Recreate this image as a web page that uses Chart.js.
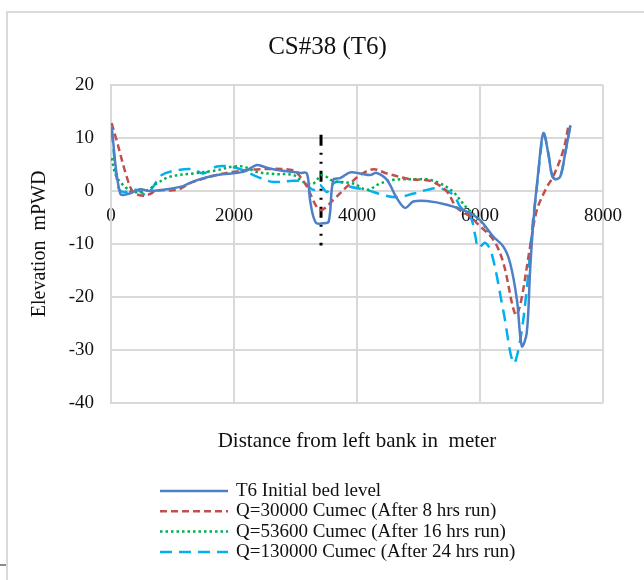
<!DOCTYPE html>
<html>
<head>
<meta charset="utf-8">
<script src="https://cdn.jsdelivr.net/npm/chart.js@4/dist/chart.umd.min.js"></script>
<style>
  html, body { margin: 0; padding: 0; background: #fff; overflow: hidden; }
  #wrap { position: relative; width: 644px; height: 580px; }
  #frame { position: absolute; left: 6px; top: 11px; width: 700px; height: 600px; border: 2px solid #d9d9d9; box-sizing: border-box; }
  #stub { position: absolute; left: 0; top: 564px; width: 6px; height: 2px; background: #8c8c8c; }
  canvas { position: absolute; left: 0; top: 0; }
</style>
</head>
<body>
<div id="wrap">
  <div id="frame"></div>
  <div id="stub"></div>
  <canvas id="chart" width="644" height="580"></canvas>
</div>
<script>
// Cross section CS#38 (T6) - bed level vs distance from left bank
const chartTitle = 'CS#38 (T6)';
const xTitle = 'Distance from left bank in  meter';
const yTitle = 'Elevation  mPWD';

const seriesNames = [
    'T6 Initial bed level',
    'Q=30000 Cumec (After 8 hrs run)',
    'Q=53600 Cumec (After 16 hrs run)',
    'Q=130000 Cumec (After 24 hrs run)'
];

// T6 initial bed level
const bedX = [10, 150, 300, 470, 630, 900, 1170, 1340, 1720, 2150, 2370, 2475, 2640, 3075, 3185, 3240, 3330, 3450, 3540, 3615, 3725, 3890, 4050, 4215, 4320, 4485, 4650, 4785, 4915, 5135, 5460, 5785, 6000, 6215, 6380, 6490, 6600, 6680, 6760, 6815, 6870, 6950, 7030, 7110, 7170, 7225, 7305, 7385, 7470];
const bedY = [12.1, -0.5, -0.5, 0.3, 0.0, 0.3, 0.9, 1.8, 3.0, 3.6, 4.9, 4.6, 4.1, 3.4, 3.3, -2.0, -6.0, -6.1, -5.8, 2.1, 2.4, 3.5, 3.3, 3.0, 3.4, 2.1, -1.4, -3.2, -2.0, -1.9, -2.6, -3.9, -5.5, -8.6, -10.5, -13.6, -20.5, -29.3, -26.8, -14.9, -5.5, 3.9, 10.9, 7.1, 3.0, 2.2, 2.7, 7.1, 12.4];

// Q=30000 after 8 hrs
const q30X = [10, 90, 255, 360, 520, 630, 745, 1070, 1335, 1720, 1985, 2425, 2965, 3075, 3185, 3345, 3430, 3615, 3835, 4050, 4265, 4485, 4865, 5080, 5240, 5460, 5625, 5840, 5950, 6215, 6380, 6575, 6655, 6815, 6925, 7090, 7190, 7355, 7440];
const q30Y = [12.8, 9.6, 2.7, -0.2, -0.9, -0.6, 0.1, 0.2, 1.7, 3.0, 3.6, 4.1, 3.9, 2.7, 0.8, -3.0, -3.6, -1.7, 0.8, 3.0, 4.1, 3.3, 2.2, 2.1, 1.7, -0.1, -3.2, -4.8, -6.1, -9.2, -13.6, -23.4, -21.5, -10.5, -3.6, 0.8, 2.7, 7.7, 12.4];

// Q=53600 after 16 hrs
const q53X = [10, 90, 255, 360, 580, 745, 960, 1335, 1720, 1985, 2150, 2370, 2640, 2965, 3125, 3290, 3430, 3615, 3940, 4160, 4375, 4590, 4975, 5135, 5355, 5565, 5785, 6000, 6215];
const q53Y = [6.2, 2.7, 0.5, -0.2, 0.1, 1.4, 2.7, 3.3, 3.9, 4.6, 4.6, 3.6, 3.2, 3.0, 1.7, 1.4, 3.0, 1.9, 1.4, 0.2, 1.4, 2.1, 2.2, 2.2, 1.4, -0.2, -3.2, -5.5, -9.0];

// Q=130000 after 24 hrs
const q130X = [10, 115, 200, 420, 580, 685, 825, 1070, 1335, 1500, 1720, 1935, 2150, 2370, 2640, 2965, 3125, 3240, 3320, 3400, 3510, 3615, 3725, 3890, 4160, 4430, 4650, 4920, 5135, 5355, 5570, 5680, 5850, 5920, 5975, 6085, 6190, 6385, 6545, 6655, 6765, 6845, 6925, 7010, 7045, 7110, 7170, 7225, 7305, 7385, 7470];
const q130Y = [11.5, 0.8, -0.2, 0.2, -0.8, 0.8, 3.0, 3.9, 4.1, 3.3, 4.6, 4.6, 3.9, 2.7, 1.7, 1.9, 1.7, 0.5, 0.2, 1.1, -0.2, 1.4, 1.7, 0.8, 0.2, -0.8, -1.2, -0.5, 0.2, 0.5, -0.8, -3.0, -5.0, -8.3, -10.7, -9.8, -11.8, -23.0, -32.5, -28.1, -18.0, -7.4, 0.8, 9.6, 10.7, 7.1, 3.0, 2.2, 2.7, 7.1, 12.4];

// vertical marker line
const markX = [3415, 3415];
const markY = [10.6, -10.3];

const xTicks = { min: 0, max: 8000, step: 2000 };
const yTicks = { min: -40, max: 20, step: 10 };

const COLORS = {
    bed: '#4f7fc5',
    q30: '#c0504d',
    q53: '#00b050',
    q130: '#00b0f0',
    mark: '#000000',
    grid: '#d9d9d9',
    text: '#111111'
};

const FONT = "'Liberation Serif', 'Times New Roman', serif";
Chart.defaults.font.family = FONT;
Chart.defaults.color = COLORS.text;

const pts = (xs, ys) => xs.map((x, i) => ({ x, y: ys[i] }));

const series = (label, xs, ys, color, dash) => ({
    label,
    data: pts(xs, ys),
    borderColor: color,
    backgroundColor: color,
    borderWidth: 2.5,
    borderDash: dash,
    pointRadius: 0,
    tension: 0.35,
    fill: false
});

// legend drawn below the plot, one entry per row, left aligned
const rowLegend = {
    id: 'rowLegend',
    afterDraw(chart) {
        const ctx = chart.ctx;
        ctx.save();
        ctx.font = "19px " + FONT;
        ctx.textBaseline = 'middle';
        ctx.fillStyle = COLORS.text;
        seriesNames.forEach((name, i) => {
            const ds = chart.data.datasets[i];
            const y = 491 + i * 20.3;
            ctx.beginPath();
            ctx.strokeStyle = ds.borderColor;
            ctx.lineWidth = ds.borderWidth;
            ctx.setLineDash(ds.borderDash || []);
            ctx.moveTo(160, y);
            ctx.lineTo(228, y);
            ctx.stroke();
            ctx.setLineDash([]);
            ctx.fillText(name, 236, y);
        });
        ctx.restore();
    }
};

new Chart(document.getElementById('chart'), {
    type: 'line',
    data: {
        datasets: [
            series(seriesNames[0], bedX, bedY, COLORS.bed, []),
            series(seriesNames[1], q30X, q30Y, COLORS.q30, [7, 4]),
            series(seriesNames[2], q53X, q53Y, COLORS.q53, [2.5, 3]),
            series(seriesNames[3], q130X, q130Y, COLORS.q130, [12, 7]),
            {
                label: 'marker',
                data: pts(markX, markY),
                borderColor: COLORS.mark,
                borderWidth: 3,
                borderDash: [11, 7, 2, 7, 2, 7],
                pointRadius: 0,
                tension: 0
            }
        ]
    },
    options: {
        responsive: false,
        animation: false,
        layout: { padding: { left: 12, right: 1, top: 12, bottom: 116 } },
        scales: {
            x: {
                type: 'linear',
                position: { y: 0 },
                min: xTicks.min,
                max: xTicks.max,
                grid: { color: COLORS.grid, lineWidth: 2, drawTicks: false },
                border: { color: COLORS.grid, width: 2 },
                ticks: { stepSize: xTicks.step, padding: 14, font: { size: 19 }, maxRotation: 0, callback: v => String(v) }
            },
            x2: {
                type: 'linear',
                axis: 'x',
                position: 'bottom',
                grid: { display: false, drawTicks: false },
                border: { display: false },
                ticks: { display: false },
                title: { display: true, text: xTitle, font: { size: 21 }, padding: { top: 26, bottom: 10 } }
            },
            y: {
                type: 'linear',
                position: 'left',
                min: yTicks.min,
                max: yTicks.max,
                grid: { color: COLORS.grid, lineWidth: 2, drawTicks: false },
                border: { color: COLORS.grid, width: 2 },
                ticks: { stepSize: yTicks.step, padding: 17, font: { size: 19 } },
                title: { display: true, text: yTitle, font: { size: 20 }, padding: { top: 16, bottom: 0 } },
                afterFit: s => { s.width = 99; }
            },
            yR: {
                type: 'linear',
                axis: 'y',
                position: 'right',
                grid: { display: false, drawTicks: false },
                border: { display: false },
                ticks: { display: false },
                afterFit: s => { s.width = 40; }
            }
        },
        plugins: {
            legend: { display: false },
            tooltip: { enabled: false },
            title: {
                display: true,
                text: chartTitle,
                font: { size: 25, weight: 'normal' },
                color: COLORS.text,
                padding: { top: 20, bottom: 23 }
            }
        }
    },
    plugins: [rowLegend]
});
</script>
</body>
</html>
